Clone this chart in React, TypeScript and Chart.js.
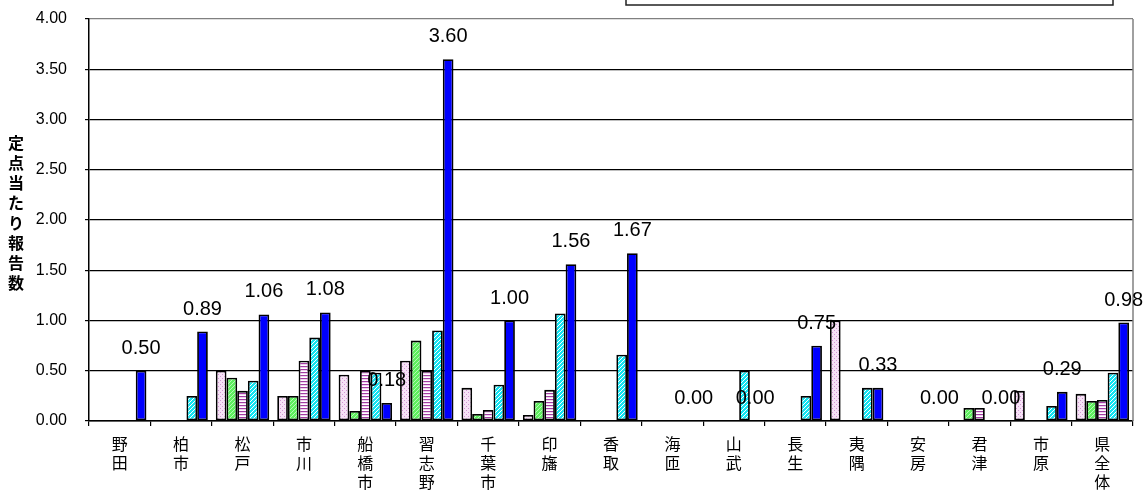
import React, { useEffect, useRef } from "react";
import { Chart, registerables } from "chart.js";

Chart.register(...registerables);

const regions = ["野田", "柏市", "松戸", "市川", "船橋市", "習志野", "千葉市", "印旛", "香取", "海匝", "山武", "長生", "夷隅", "安房", "君津", "市原", "県全体"];
const seriesNames = ["系列1", "系列2", "系列3", "系列4", "系列5"];
const seriesA = [null, null, 0.5, 0.25, 0.46, 0.6, 0.33, 0.06, null, null, null, null, 1.0, null, null, 0.3, 0.27];
const seriesB = [null, null, 0.43, 0.25, 0.1, 0.8, 0.07, 0.2, null, null, null, null, null, null, 0.13, null, 0.2];
const seriesC = [null, null, 0.3, 0.6, 0.5, 0.5, 0.11, 0.31, null, null, null, null, null, null, 0.13, null, 0.21];
const seriesD = [null, 0.25, 0.4, 0.83, 0.48, 0.9, 0.36, 1.07, 0.66, null, 0.5, 0.25, 0.33, null, null, 0.15, 0.48];
const seriesE = [0.5, 0.89, 1.06, 1.08, 0.18, 3.6, 1.0, 1.56, 1.67, 0.0, 0.0, 0.75, 0.33, 0.0, 0.0, 0.29, 0.98];
const yTicks = [0, 0.5, 1, 1.5, 2, 2.5, 3, 3.5, 4];
const yTitle = "定点当たり報告数";

function makePattern(size: number, base: string, draw: (c: CanvasRenderingContext2D) => void) {
  const cv = document.createElement("canvas");
  cv.width = size;
  cv.height = size;
  const c = cv.getContext("2d")!;
  c.fillStyle = base;
  c.fillRect(0, 0, size, size);
  draw(c);
  return c.createPattern(cv, "repeat")!;
}

export default function App() {
  const ref = useRef<HTMLCanvasElement>(null);
  useEffect(() => {
    const canvas = ref.current!;
    const pA = makePattern(4, "#f6e2f6", (c) => {
      c.fillStyle = "#d496d4";
      c.fillRect(0, 0, 1, 1);
      c.fillRect(2, 2, 1, 1);
    });
    const pB = makePattern(4, "#5eef5e", (c) => {
      c.fillStyle = "#b4fbb4";
      for (let i = 0; i < 4; i++) c.fillRect(3 - i, i, 1, 1);
    });
    const pC = makePattern(3, "#ffffff", (c) => {
      c.fillStyle = "#a23ca2";
      c.fillRect(0, 0, 3, 1);
      c.fillStyle = "#f0d2f0";
      c.fillRect(0, 1, 3, 1);
    });
    const pD = makePattern(4, "#14e4f2", (c) => {
      c.fillStyle = "#ffffff";
      for (let i = 0; i < 4; i++) c.fillRect(3 - i, i, 1, 1);
    });
    const fills = [pA, pB, pC, pD, "#0000ff"];
    const datas = [seriesA, seriesB, seriesC, seriesD, seriesE];

    const decor = {
      id: "decor",
      beforeDraw(chart: any) {
        const ctx = chart.ctx;
        ctx.save();
        ctx.fillStyle = "#fff";
        ctx.fillRect(0, 0, chart.width, chart.height);
        ctx.strokeStyle = "#222";
        ctx.lineWidth = 1.5;
        ctx.strokeRect(626, -5, 487, 10);
        ctx.fillStyle = "#000";
        ctx.font = 'bold 16px "Noto Sans CJK JP"';
        ctx.textAlign = "center";
        ctx.textBaseline = "middle";
        const chars = Array.from(yTitle);
        chars.forEach((ch, i) => ctx.fillText(ch, 16, 143 + i * 20));
        ctx.restore();
      },
      afterDatasetsDraw(chart: any) {
        const ctx = chart.ctx;
        const area = chart.chartArea;
        ctx.save();
        ctx.strokeStyle = "#808080";
        ctx.lineWidth = 1.5;
        ctx.beginPath();
        ctx.moveTo(area.right, area.top);
        ctx.lineTo(area.right, area.bottom);
        ctx.stroke();
        const meta = chart.getDatasetMeta(4);
        ctx.fillStyle = "#000";
        ctx.font = '20px "Liberation Sans", Arial, sans-serif';
        ctx.textAlign = "center";
        ctx.textBaseline = "alphabetic";
        meta.data.forEach((el: any, i: number) => {
          const v = seriesE[i];
          if (v === null || v === undefined) return;
          ctx.fillText(v.toFixed(2), el.x, el.y - 17);
        });
        ctx.restore();
      },
    };

    const chart = new Chart(canvas, {
      type: "bar",
      data: {
        labels: regions.map((r) => Array.from(r)),
        datasets: datas.map((d, k) => ({
          label: seriesNames[k],
          data: d,
          backgroundColor: fills[k] as any,
          borderColor: "#000",
          borderWidth: (ctx: any) => (ctx.raw === 0 ? 0 : 1.8),
          borderSkipped: false,
          inflateAmount: 0,
          categoryPercentage: 0.87,
          barPercentage: 1,
        })),
      },
      options: {
        responsive: false,
        animation: false,
        devicePixelRatio: 1,
        layout: { padding: { top: 19, right: 14, left: 0, bottom: 0 } },
        plugins: { legend: { display: false }, tooltip: { enabled: false } },
        scales: {
          x: {
            afterFit: (s: any) => {
              s.height = 70;
              s.paddingLeft = 0;
              s.paddingRight = 0;
            },
            grid: { offset: true, drawOnChartArea: false, tickLength: 5, color: "#000", lineWidth: 1.2 },
            border: { color: "#000", width: 1.5 },
            ticks: {
              color: "#000",
              padding: 8,
              maxRotation: 0,
              autoSkip: false,
              font: { family: '"Noto Sans CJK JP"', size: 16, lineHeight: 1.2 },
            },
          },
          y: {
            min: 0,
            max: 4,
            afterFit: (s: any) => {
              s.width = 89;
              s.paddingTop = 0;
              s.paddingBottom = 0;
            },
            afterBuildTicks: (s: any) => {
              s.ticks = yTicks.map((v) => ({ value: v }));
            },
            grid: {
              color: (c: any) => (c.tick && c.tick.value === 4 ? "#808080" : "#000"),
              tickColor: "#000",
              lineWidth: 1.2,
              tickLength: 4,
            },
            border: { color: "#000", width: 1.5 },
            ticks: {
              color: "#000",
              padding: 18,
              font: { family: '"Liberation Sans", Arial, sans-serif', size: 16 },
              callback: (v: any) => Number(v).toFixed(2),
            },
          },
        },
      },
      plugins: [decor],
    });
    return () => chart.destroy();
  }, []);
  return (
    <div style={{ position: "fixed", left: 0, top: 0, width: 1147, height: 491, background: "#fff" }}>
      <canvas ref={ref} width={1147} height={491} style={{ display: "block" }} />
    </div>
  );
}
